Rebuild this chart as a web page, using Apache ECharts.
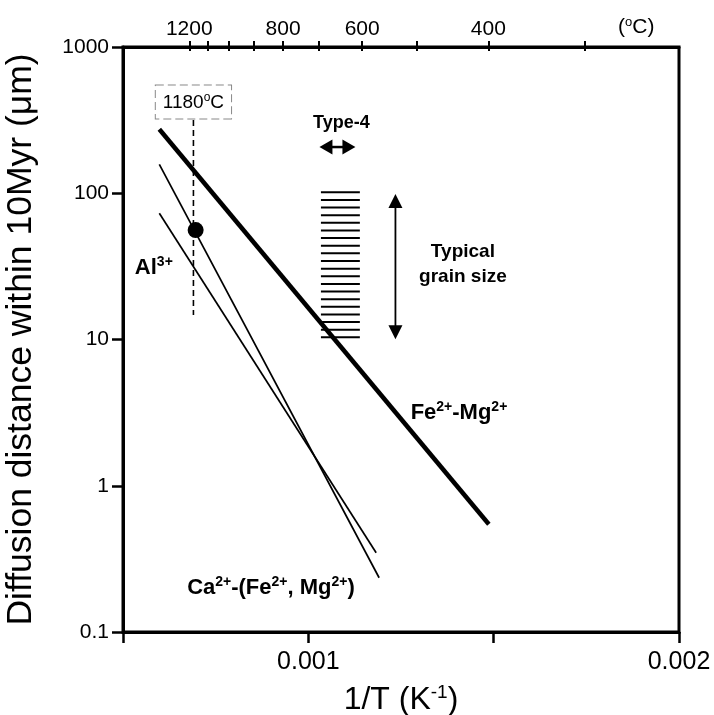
<!DOCTYPE html>
<html>
<head>
<meta charset="utf-8">
<script src="https://cdn.jsdelivr.net/npm/echarts@6/dist/echarts.min.js"></script>
<style>
html,body{margin:0;padding:0;background:#fff;}
#main{width:714px;height:715px;}
</style>
</head>
<body>
<div id="main"></div>
<script>
// ---- axes ----
const xMin = 0.0005, xMax = 0.002, xInterval = 0.0005;
const bottomTickLabels = [0.001, 0.002];
const yMin = 0.1, yMax = 1000;
const yTickValues = [0.1, 1, 10, 100, 1000];
const topTempTicks = [1200, 1100, 1000, 900, 800, 700, 600, 500, 400, 300]; // °C
const topTempLabels = [1200, 800, 600, 400];

// ---- series (1/T in K^-1, diffusion distance in µm) ----
const feMgX = [0.000598, 0.001487];
const feMgY = [273.7, 0.545];
const alX = [0.000598, 0.001191];
const alY = [157.7, 0.235];
const caX = [0.000598, 0.001183];
const caY = [72.9, 0.348];
const alPoint = [0.000696, 56.0];

// 1180 °C marker
const markerX = 0.00069;
const markerY = [317, 14.7];
const markerLabelY = 421;

// typical grain size band & arrows
const hatchX = [0.001034, 0.001139];
const hatchY = [10.35, 101.5];
const grainArrow = [0.001235, 99, 0.001235, 10.03];
const type4Arrow = [0.00103, 207, 0.001127, 207];

// annotation anchors
const type4Label = [0.001089, 303];
const grainLabel = [0.001417, 32.8];
const alLabel = [0.000532, 30.8];
const feMgLabel = [0.001276, 3.14];
const caLabel = [0.000673, 0.2];

const FONT = "'Liberation Sans', Arial, Helvetica, sans-serif";
const toInvK = t => 1 / (t + 273.15);

const chart = echarts.init(document.getElementById('main'), null, {renderer: 'canvas'});

function arrowRender(headLen, headHalf, lineW) {
  return function (params, api) {
    const p1 = api.coord([api.value(0), api.value(1)]);
    const p2 = api.coord([api.value(2), api.value(3)]);
    const dx = p2[0] - p1[0], dy = p2[1] - p1[1];
    const L = Math.hypot(dx, dy) || 1;
    const ux = dx / L, uy = dy / L, nx = -uy, ny = ux;
    const head = (tip, d) => ({
      type: 'polygon',
      shape: {points: [
        tip,
        [tip[0] - d * ux * headLen + nx * headHalf, tip[1] - d * uy * headLen + ny * headHalf],
        [tip[0] - d * ux * headLen - nx * headHalf, tip[1] - d * uy * headLen - ny * headHalf]
      ]},
      style: {fill: '#000'}
    });
    return {
      type: 'group',
      children: [
        {type: 'line', shape: {x1: p1[0] + ux * headLen * 0.5, y1: p1[1] + uy * headLen * 0.5,
                                x2: p2[0] - ux * headLen * 0.5, y2: p2[1] - uy * headLen * 0.5},
         style: {stroke: '#000', lineWidth: lineW}},
        head(p2, 1), head(p1, -1)
      ]
    };
  };
}

const HATCH_COUNT = 20;
function hatchRender(params, api) {
  const a = api.coord([api.value(0), api.value(3)]);
  const b = api.coord([api.value(1), api.value(2)]);
  const children = [];
  for (let i = 0; i < HATCH_COUNT; i++) {
    const y = a[1] + (b[1] - a[1]) * i / (HATCH_COUNT - 1);
    children.push({type: 'line', shape: {x1: a[0], y1: y, x2: b[0], y2: y},
      style: {stroke: '#000', lineWidth: 2}});
  }
  return {type: 'group', children};
}

const boldRich = {
  b: {fontFamily: FONT, fontSize: 22, fontWeight: 'bold', color: '#000'},
  s: {fontFamily: FONT, fontSize: 14, fontWeight: 'bold', color: '#000', padding: [0, 0, 12, 0]}
};

function textPoint(pos, text, position, rich, extra) {
  return {
    type: 'scatter', symbolSize: 0, silent: true, z: 10,
    itemStyle: {opacity: 1},
    data: [pos],
    label: Object.assign({show: true, position: position, distance: 0, formatter: text, rich: rich, color: '#000'}, extra || {})
  };
}

const axisLineStyle = {color: '#000', width: 3};

const option = {
  animation: false,
  backgroundColor: '#fff',
  grid: {left: 123, right: 35, top: 47, bottom: 83, show: true, borderColor: '#000', borderWidth: 3,
         containLabel: false, outerBoundsMode: 'none'},
  xAxis: [
    {
      type: 'value', position: 'bottom', min: xMin, max: xMax, interval: xInterval,
      axisLine: {show: true, lineStyle: axisLineStyle},
      axisTick: {show: true, length: 11, lineStyle: {color: '#000', width: 2.5}},
      axisLabel: {customValues: bottomTickLabels, margin: 18, fontFamily: FONT, fontSize: 25, color: '#000',
                  formatter: v => String(Number(v.toPrecision(6)))},
      splitLine: {show: false},
      name: '{a|1/T (K}{s|-1}{a|)}', nameLocation: 'middle', nameGap: 51,
      nameTextStyle: {rich: {
        a: {fontFamily: FONT, fontSize: 32, color: '#000'},
        s: {fontFamily: FONT, fontSize: 19, color: '#000', padding: [0, 0, 16, 0]}
      }}
    },
    {
      type: 'value', position: 'top', min: xMin, max: xMax,
      axisLine: {show: true, lineStyle: axisLineStyle},
      axisTick: {show: true, length: 6, customValues: topTempTicks.map(toInvK), lineStyle: {color: '#000', width: 2}},
      axisLabel: {customValues: topTempLabels.map(toInvK), margin: 7, fontFamily: FONT, fontSize: 21, color: '#000',
                  formatter: v => String(Math.round(1 / v - 273.15))},
      splitLine: {show: false},
      name: '{a|(}{s|o}{a|C)}', nameLocation: 'end', nameGap: -61,
      nameTextStyle: {align: 'left', verticalAlign: 'bottom', padding: [0, 0, 8, 0], rich: {
        a: {fontFamily: FONT, fontSize: 21, color: '#000'},
        s: {fontFamily: FONT, fontSize: 13, color: '#000', padding: [0, 0, 10, 0]}
      }}
    },
    {
      type: 'value', position: 'top', min: xMin, max: xMax,
      axisLine: {show: false},
      axisTick: {show: true, inside: true, length: 4, customValues: topTempTicks.map(toInvK), lineStyle: {color: '#000', width: 2}},
      axisLabel: {show: false},
      splitLine: {show: false}
    }
  ],
  yAxis: [
    {
      type: 'log', logBase: 10, min: yMin, max: yMax,
      axisLine: {show: true, lineStyle: axisLineStyle},
      axisTick: {show: true, length: 11, customValues: yTickValues, lineStyle: {color: '#000', width: 2.5}},
      axisLabel: {customValues: yTickValues, margin: 14, fontFamily: FONT, fontSize: 21, color: '#000',
                  formatter: v => String(Number(Number(v).toPrecision(6)))},
      splitLine: {show: false},
      minorTick: {show: false},
      name: 'Diffusion distance within 10Myr (μm)', nameLocation: 'middle', nameGap: 84,
      nameTextStyle: {fontFamily: FONT, fontSize: 35.5, color: '#000'}
    }
  ],
  series: [
    {type: 'line', name: 'Fe-Mg', data: feMgX.map((x, i) => [x, feMgY[i]]), showSymbol: false, silent: true,
     lineStyle: {color: '#000', width: 4.5}, z: 5},
    {type: 'line', name: 'Al', data: alX.map((x, i) => [x, alY[i]]), showSymbol: false, silent: true,
     lineStyle: {color: '#000', width: 1.7}, z: 5},
    {type: 'line', name: 'Ca', data: caX.map((x, i) => [x, caY[i]]), showSymbol: false, silent: true,
     lineStyle: {color: '#000', width: 1.7}, z: 5},
    {type: 'line', name: 'T1180', data: markerY.map(y => [markerX, y]), showSymbol: false, silent: true,
     lineStyle: {color: '#000', width: 1.6, type: [6, 4]}, z: 4},
    {type: 'scatter', data: [alPoint], symbolSize: 16, itemStyle: {color: '#000', opacity: 1}, silent: true, z: 6},
    {type: 'custom', renderItem: hatchRender, data: [[hatchX[0], hatchX[1], hatchY[0], hatchY[1]]], silent: true, z: 3},
    {type: 'custom', renderItem: arrowRender(14, 7, 1.8), data: [grainArrow], silent: true, z: 6},
    {type: 'custom', renderItem: arrowRender(13, 7.5, 2.5), data: [type4Arrow], silent: true, z: 6},
    textPoint([markerX, markerLabelY], '{a|1180}{s|o}{a|C}', 'inside', {
      a: {fontFamily: FONT, fontSize: 19, color: '#000'},
      s: {fontFamily: FONT, fontSize: 12, color: '#000', padding: [0, 0, 10, 0]}
    }, {borderType: 'dashed', borderColor: '#888', borderWidth: 1, padding: [6, 7, 5, 7], backgroundColor: '#fff'}),
    textPoint(type4Label, '{b|Type-4}', 'inside', {b: {fontFamily: FONT, fontSize: 18, fontWeight: 'bold', color: '#000'}}),
    textPoint(grainLabel, '{b|Typical}\n{b|grain size}', 'inside', {b: {fontFamily: FONT, fontSize: 19, fontWeight: 'bold', color: '#000', lineHeight: 25, align: 'center'}}, {align: 'center'}),
    textPoint(alLabel, '{b|Al}{s|3+}', 'right', boldRich),
    textPoint(feMgLabel, '{b|Fe}{s|2+}{b|-Mg}{s|2+}', 'right', boldRich),
    textPoint(caLabel, '{b|Ca}{s|2+}{b|-(Fe}{s|2+}{b|, Mg}{s|2+}{b|)}', 'right', boldRich)
  ]
};
chart.setOption(option);
</script>
</body>
</html>
